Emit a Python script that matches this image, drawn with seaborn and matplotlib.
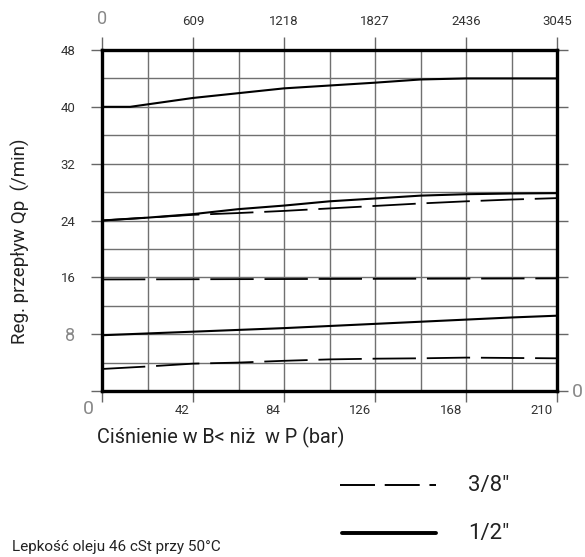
import numpy as np
import pandas as pd
import matplotlib
matplotlib.use('Agg')
import matplotlib.pyplot as plt
import matplotlib.transforms as mtransforms
from matplotlib.lines import Line2D
import seaborn as sns

# ciśnienie (bar) i przepływ (l/min)
bar = [0, 21, 42, 63, 84, 105, 126, 147, 168, 189, 210]
bar_top = [0, 13, 42, 84, 126, 147, 168, 210]
bar_flat = [0, 210]

q_half_top = [40.0, 40.0, 41.25, 42.6, 43.4, 43.85, 44.0, 44.0]
q_half_mid = [24.0, 24.4, 24.9, 25.6, 26.1, 26.7, 27.1, 27.5, 27.7, 27.8, 27.85]
q_half_low = [7.85, 8.1, 8.35, 8.6, 8.85, 9.15, 9.45, 9.75, 10.05, 10.35, 10.6]
q_38_mid = [24.0, 24.4, 24.8, 25.05, 25.35, 25.7, 26.05, 26.4, 26.7, 26.95, 27.15]
q_38_flat = [15.7, 15.85]
q_38_low = [3.1, 3.45, 3.85, 4.0, 4.25, 4.45, 4.55, 4.6, 4.7, 4.65, 4.6]

top_ticks = [0, 609, 1218, 1827, 2436, 3045]
bottom_ticks = [0, 42, 84, 126, 168, 210]
left_ticks = [0, 8, 16, 24, 32, 40, 48]

curves = [
    ('a', '1/2"', bar_top, q_half_top),
    ('b', '1/2"', bar, q_half_mid),
    ('c', '1/2"', bar, q_half_low),
    ('d', '3/8"', bar, q_38_mid),
    ('e', '3/8"', bar_flat, q_38_flat),
    ('f', '3/8"', bar, q_38_low),
]
rows = []
for name, size, xs, ys in curves:
    for x, y in zip(xs, ys):
        rows.append({'bar': x, 'q': y, 'curve': name, 'size': size})
df = pd.DataFrame(rows)

sns.set_style('white')
plt.rcParams['font.family'] = ['Roboto', 'DejaVu Sans']

W, H = 585, 557
fig = plt.figure(figsize=(W / 100, H / 100), dpi=100)
ax = fig.add_axes([102 / W, 1 - 391 / H, 455 / W, 341 / H])

sns.lineplot(data=df, x='bar', y='q', units='curve', estimator=None,
             style='size', dashes={'1/2"': '', '3/8"': (24, 6)},
             size='size', sizes={'1/2"': 1.5, '3/8"': 1.3},
             color='black', legend=False, sort=False, ax=ax)

ax.set_xlim(0, 210)
ax.set_ylim(0, 48)
ax.set_xticks(bottom_ticks)
ax.set_xticks(np.arange(0, 211, 21), minor=True)
ax.set_yticks(left_ticks)
ax.set_yticks(np.arange(0, 49, 4), minor=True)
ax.grid(which='both', color='#707070', lw=1.0)
ax.set_axisbelow(True)
ax.tick_params(which='minor', length=0)
ax.tick_params(which='major', direction='out', length=8, width=1.0, color='#666',
               left=True, right=True, bottom=True, labelsize=9.5, labelcolor='#333')
ax.tick_params(axis='y', pad=11)
ax.tick_params(axis='x', pad=1)
for s in ax.spines.values():
    s.set_linewidth(2.4)
    s.set_color('black')

ax.set_xticklabels([''] + [str(t) for t in bottom_ticks[1:]])
ax.set_yticklabels([''] + [str(t) for t in left_ticks[1:]])
offset = mtransforms.ScaledTranslation(-0.04, 0, fig.dpi_scale_trans)
for lab in ax.get_xticklabels():
    lab.set_ha('right')
    lab.set_transform(lab.get_transform() + offset)
for lab in ax.get_yticklabels():
    if lab.get_text() == '8':
        lab.set_fontsize(13)
        lab.set_color('#888')
ax.set_xlabel('')
ax.set_ylabel('')

secax = ax.secondary_xaxis('top', functions=(lambda x: x * 14.5, lambda x: x / 14.5))
secax.set_xticks(top_ticks)
secax.tick_params(direction='out', length=9.5, width=1.0, color='#666', pad=6,
                  labelsize=9.5, labelcolor='#333')
secax.spines['top'].set_visible(False)
for lab in secax.get_xticklabels():
    if lab.get_text() == '0':
        lab.set_fontsize(13)
        lab.set_color('#888')

def fx(x):
    return x / W

def fy(y):
    return 1 - y / H

fig.text(fx(88), fy(409), '0', fontsize=14, color='#888', ha='center', va='center')
fig.text(fx(572), fy(392), '0', fontsize=14, color='#888', ha='left', va='center')

fig.text(fx(20), fy(241), 'Reg. przepływ Qp  (/min)', rotation=90, fontsize=13.5,
         ha='center', va='center', color='#222')
fig.text(fx(97), fy(437), 'Ciśnienie w B< niż  w P (bar)', fontsize=14.3,
         ha='left', va='center', color='#222')

fig.add_artist(Line2D([fx(340), fx(436)], [fy(485), fy(485)], color='black', lw=1.4,
                      dashes=(18, 5)))
fig.add_artist(Line2D([fx(342), fx(436)], [fy(533), fy(533)], color='black', lw=2.8))
fig.text(fx(468), fy(485), '3/8"', fontsize=16, ha='left', va='center', color='#222')
fig.text(fx(468), fy(533), '1/2"', fontsize=16, ha='left', va='center', color='#222')

fig.text(fx(12), fy(547), 'Lepkość oleju 46 cSt przy 50°C', fontsize=11,
         ha='left', va='center', color='#222')

fig.savefig('out.png', dpi=100)
